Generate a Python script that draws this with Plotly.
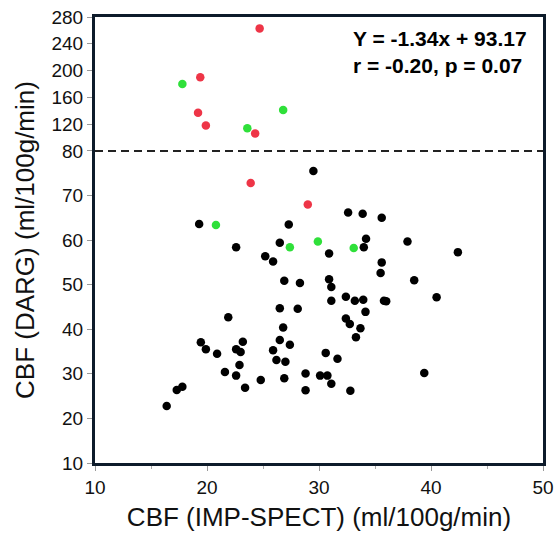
import plotly.graph_objects as go

# ---- data ----
black_x = [16.4, 17.3, 17.8, 19.3, 19.45, 19.9, 20.9, 21.6, 21.9, 22.6, 22.6, 22.6, 22.9, 23.0, 23.2,
           23.4, 24.8, 25.2, 25.9, 25.9, 26.2, 26.5, 26.5, 26.5, 26.8, 26.9, 27.0, 26.9, 27.3, 27.4,
           28.1, 28.3, 28.8, 28.8, 29.5, 30.1, 30.6, 30.75, 30.9, 30.9, 31.1, 31.1, 31.1, 31.65, 32.4,
           32.4, 32.6, 32.75, 32.8, 33.2, 33.3, 33.7, 33.9, 33.95, 34.0, 34.2, 34.15, 35.5, 35.6, 35.6,
           35.8, 36.0, 37.9, 38.5, 39.4, 40.5, 42.4]
black_y = [22.8, 26.4, 27.1, 63.6, 37.1, 35.5, 34.5, 30.4, 42.7, 58.4, 35.5, 29.6, 32.0, 34.9, 37.2,
           26.9, 28.6, 56.4, 55.2, 35.3, 33.1, 59.4, 44.7, 37.6, 40.4, 29.0, 32.7, 50.9, 63.5, 36.5,
           44.6, 50.4, 30.1, 26.3, 75.5, 29.6, 34.7, 29.6, 57.0, 51.2, 49.5, 46.4, 27.8, 33.4, 47.3,
           42.4, 66.2, 41.2, 26.2, 46.4, 38.2, 40.2, 65.9, 46.6, 58.4, 60.3, 43.9, 52.6, 55.0, 65.0,
           46.4, 46.3, 59.7, 51.0, 30.2, 47.2, 57.3]
green_x = [17.8, 26.8, 23.6, 20.8, 27.4, 29.9, 33.1]
green_y = [180, 141, 114, 63.4, 58.4, 59.7, 58.2]
red_x = [24.7, 19.4, 19.2, 19.9, 24.3, 23.9, 29.0]
red_y = [263, 190, 137, 118, 106, 72.8, 68.0]

x_ticks = [10, 20, 30, 40, 50]
y_ticks = [10, 20, 30, 40, 50, 60, 70, 80, 120, 160, 200, 240, 280]
threshold = 80
annotation_lines = ["Y = -1.34x + 93.17", "r = -0.20, p = 0.07"]

# broken y-scale: linear up to 80, compressed above
BREAK = 80.0
COMPRESS = 0.1502


def ty(v):
    return v if v <= BREAK else BREAK + (v - BREAK) * COMPRESS


def tys(vals):
    return [ty(v) for v in vals]


FONT = "Liberation Sans, Arial, sans-serif"
fig = go.Figure()

for xs, ys, col in [(black_x, black_y, "#000000"),
                    (green_x, green_y, "#2FE03A"),
                    (red_x, red_y, "#EE3547")]:
    fig.add_trace(go.Scatter(x=xs, y=tys(ys), mode="markers",
                             marker=dict(size=8.5, color=col, line=dict(width=0)),
                             showlegend=False))

fig.add_shape(type="line", xref="x", yref="y", x0=10, x1=50, y0=ty(threshold), y1=ty(threshold),
              line=dict(color="#222222", width=2, dash="8px,5px"))

fig.add_annotation(xref="paper", yref="paper", x=0.572, y=0.983, xanchor="left", yanchor="top",
                   text="<br>".join(annotation_lines), showarrow=False, align="left",
                   font=dict(family=FONT, size=21, color="#000000", weight="bold"))

axis_common = dict(showgrid=False, zeroline=False, showline=True, mirror=True,
                   linecolor="#0d1b2a", linewidth=3, ticks="outside", ticklen=5,
                   tickcolor="#999999", tickwidth=1, automargin=False,
                   tickfont=dict(family=FONT, size=19, color="#111111"))

fig.update_xaxes(range=[10, 50], tickvals=x_ticks, ticktext=[str(v) for v in x_ticks],
                 minor=dict(tickvals=[15, 25, 35, 45], ticks="outside", ticklen=3, tickcolor="#aaaaaa"),
                 title=dict(text="CBF (IMP-SPECT) (ml/100g/min)", standoff=12,
                            font=dict(family=FONT, size=26, color="#111111")),
                 **axis_common)
fig.update_yaxes(range=[10, ty(280)], tickvals=tys(y_ticks), ticktext=[str(v) for v in y_ticks],
                 title=dict(text="CBF (DARG) (ml/100g/min)", standoff=10,
                            font=dict(family=FONT, size=26, color="#111111")),
                 **axis_common)

fig.update_layout(width=554, height=534, margin=dict(l=95, r=11, t=17, b=71),
                  plot_bgcolor="white", paper_bgcolor="white")

fig.write_html("out.html")
